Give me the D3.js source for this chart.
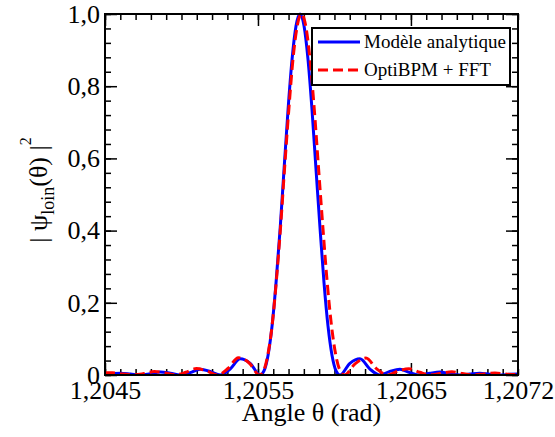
<!DOCTYPE html>
<html>
<head>
<meta charset="utf-8">
<script src="https://cdn.jsdelivr.net/npm/d3@7"></script>
<style>
  html, body { margin: 0; padding: 0; background: #fff; }
  svg { display: block; }
  svg text { font-family: "Liberation Serif", "Times New Roman", Times, serif !important; fill: #000; }
</style>
</head>
<body>
<svg id="chart" width="555" height="437"></svg>
<script>
// ---- Data ----
const analyticAngle = [
  1.204500, 1.204601, 1.204666, 1.204731, 1.204796, 1.204862, 1.204927, 1.204992,
  1.205057, 1.205123, 1.205188, 1.205253, 1.205318, 1.205384, 1.205449, 1.205514,
  1.205540, 1.205566, 1.205592, 1.205618, 1.205645, 1.205671, 1.205697, 1.205723,
  1.205749, 1.205775, 1.205801, 1.205827, 1.205853, 1.205879, 1.205906, 1.205932,
  1.205958, 1.205984, 1.206010, 1.206036, 1.206101, 1.206167, 1.206232, 1.206297,
  1.206362, 1.206428, 1.206493, 1.206558, 1.206623, 1.206689, 1.206754, 1.206819,
  1.206884, 1.206950, 1.207015, 1.207080, 1.207145, 1.207200
];
const analyticValue = [
  0.003, 0.005, 0.0028, 0.0, 0.0036, 0.0083, 0.0048, 0.0,
  0.0067, 0.0162, 0.0100, 0.0, 0.0165, 0.0450, 0.0324, 0.0,
  0.0119, 0.0547, 0.1353, 0.2546, 0.4053, 0.5728, 0.7368, 0.8751,
  0.9675, 1.0, 0.9675, 0.8751, 0.7368, 0.5728, 0.4053, 0.2546,
  0.1353, 0.0547, 0.0119, 0.0, 0.0324, 0.0450, 0.0165, 0.0,
  0.0100, 0.0162, 0.0067, 0.0, 0.0048, 0.0083, 0.0036, 0.0,
  0.0028, 0.0050, 0.0022, 0.0, 0.0018, 0.003
];
const bpmAngle = [
  1.204500, 1.204549, 1.204617, 1.204686, 1.204755, 1.204823, 1.204892, 1.204961,
  1.205029, 1.205098, 1.205166, 1.205235, 1.205304, 1.205372, 1.205441, 1.205510,
  1.205537, 1.205564, 1.205592, 1.205619, 1.205647, 1.205674, 1.205702, 1.205729,
  1.205757, 1.205784, 1.205812, 1.205840, 1.205868, 1.205896, 1.205925, 1.205953,
  1.205981, 1.206009, 1.206037, 1.206065, 1.206135, 1.206206, 1.206276, 1.206346,
  1.206416, 1.206487, 1.206557, 1.206627, 1.206697, 1.206768, 1.206838, 1.206908,
  1.206978, 1.207049, 1.207119, 1.207200
];
const bpmValue = [
  0.006, 0.006, 0.0028, 0.0005, 0.0040, 0.0095, 0.0055, 0.0005,
  0.0075, 0.0180, 0.0110, 0.0, 0.0180, 0.0480, 0.0340, 0.0,
  0.0119, 0.0547, 0.1353, 0.2546, 0.4053, 0.5728, 0.7368, 0.8751,
  0.9675, 1.0, 0.9675, 0.8751, 0.7368, 0.5728, 0.4053, 0.2546,
  0.1353, 0.0547, 0.0119, 0.0, 0.0310, 0.0470, 0.0170, 0.0,
  0.0110, 0.0170, 0.0075, 0.0005, 0.0050, 0.0090, 0.0040, 0.0005,
  0.0030, 0.0055, 0.0025, 0.001
];
const seriesNames = ["Modèle analytique", "OptiBPM + FFT"];
const xTickLabels = [1.2045, 1.2055, 1.2065, 1.2072];
const yTickLabels = [0, 0.2, 0.4, 0.6, 0.8, 1.0];
const xDomain = [1.2045, 1.2072];
const yDomain = [0, 1];

// ---- Layout ----
const FONT = '"Liberation Serif", "Times New Roman", Times, serif';
const L = 105, R = 518, T = 14, B = 375;
const svg = d3.select("#chart");
const x = d3.scaleLinear().domain(xDomain).range([L, R]);
const y = d3.scaleLinear().domain(yDomain).range([B, T]);

const comma = v => (v === 0 ? "0" : d3.format(v >= 1.1 ? ".4f" : ".1f")(v).replace(".", ","));

const xMinor = d3.range(0, 28).map(i => +(1.2045 + i * 0.0001).toFixed(4));
const yMinor = d3.range(0, 26).map(i => +(i * 0.04).toFixed(2));
const xMajor = [1.2045, 1.2055, 1.2065];

function styleAxis(g) {
  g.attr("font-family", FONT);
  g.select(".domain").remove();
  g.selectAll(".tick line").attr("stroke", "#000").attr("stroke-width", 1.5);
}

// bottom
svg.append("g").attr("transform", `translate(0,${B})`)
  .call(d3.axisBottom(x).tickValues(xMinor).tickSize(-6).tickFormat(""))
  .call(styleAxis);
svg.append("g").attr("transform", `translate(0,${B})`)
  .call(d3.axisBottom(x).tickValues(xMajor).tickSize(-12).tickFormat(""))
  .call(styleAxis);
svg.append("g").attr("transform", `translate(0,${B})`)
  .call(d3.axisBottom(x).tickValues(xTickLabels).tickSize(0).tickPadding(6).tickFormat(comma))
  .call(styleAxis)
  .call(g => g.selectAll(".tick line").remove())
  .call(g => g.selectAll("text").attr("font-size", 26).attr("font-family", FONT));
// top
svg.append("g").attr("transform", `translate(0,${T})`)
  .call(d3.axisTop(x).tickValues(xMinor).tickSize(-6).tickFormat(""))
  .call(styleAxis);
svg.append("g").attr("transform", `translate(0,${T})`)
  .call(d3.axisTop(x).tickValues(xMajor).tickSize(-12).tickFormat(""))
  .call(styleAxis);
// left
svg.append("g").attr("transform", `translate(${L},0)`)
  .call(d3.axisLeft(y).tickValues(yMinor).tickSize(-6).tickFormat(""))
  .call(styleAxis);
svg.append("g").attr("transform", `translate(${L},0)`)
  .call(d3.axisLeft(y).tickValues(yTickLabels).tickSize(-12).tickPadding(5).tickFormat(comma))
  .call(styleAxis)
  .call(g => g.selectAll("text").attr("font-size", 26).attr("font-family", FONT));
// right
svg.append("g").attr("transform", `translate(${R},0)`)
  .call(d3.axisRight(y).tickValues(yMinor).tickSize(-6).tickFormat(""))
  .call(styleAxis);
svg.append("g").attr("transform", `translate(${R},0)`)
  .call(d3.axisRight(y).tickValues(yTickLabels).tickSize(-12).tickFormat(""))
  .call(styleAxis);

// clip
svg.append("clipPath").attr("id", "clip")
  .append("rect").attr("x", L).attr("y", T - 2).attr("width", R - L).attr("height", B - T + 2);

const line = d3.line().x(d => x(d[0])).y(d => y(d[1])).curve(d3.curveMonotoneX);
const blueData = analyticAngle.map((a, i) => [a, analyticValue[i]]);
const redData = bpmAngle.map((a, i) => [a, bpmValue[i]]);

const plot = svg.append("g").attr("clip-path", "url(#clip)");
plot.append("path").datum(blueData).attr("d", line)
  .attr("fill", "none").attr("stroke", "#0000ff").attr("stroke-width", 3);
plot.append("path").datum(redData).attr("d", line)
  .attr("fill", "none").attr("stroke", "#ff0000").attr("stroke-width", 3)
  .attr("stroke-dasharray", "10,5");

// frame
svg.append("rect").attr("x", L).attr("y", T).attr("width", R - L).attr("height", B - T)
  .attr("fill", "none").attr("stroke", "#000").attr("stroke-width", 2);

// legend
const lg = svg.append("g").attr("font-family", FONT);
lg.append("rect").attr("x", 312).attr("y", 28).attr("width", 198).attr("height", 57)
  .attr("fill", "#fff").attr("stroke", "#000").attr("stroke-width", 2);
const legendStyles = [
  { color: "#0000ff", dash: null },
  { color: "#ff0000", dash: "10,5" }
];
seriesNames.forEach((name, i) => {
  const yy = 42 + i * 28;
  lg.append("line").attr("x1", 318).attr("x2", 360).attr("y1", yy).attr("y2", yy)
    .attr("stroke", legendStyles[i].color).attr("stroke-width", 3)
    .attr("stroke-dasharray", legendStyles[i].dash);
  lg.append("text").attr("x", 364).attr("y", yy).attr("dy", "0.33em")
    .attr("font-size", 19).text(name);
});

// axis titles
svg.append("text").attr("x", (L + R) / 2).attr("y", 421).attr("text-anchor", "middle")
  .attr("font-family", FONT).attr("font-size", 26).text("Angle θ (rad)");

const yt = svg.append("text").attr("transform", "translate(47,190) rotate(-90)")
  .attr("text-anchor", "middle").attr("font-family", FONT).attr("font-size", 26);
yt.append("tspan").text("| ψ");
yt.append("tspan").attr("font-size", 18).attr("dy", 7).text("loin");
yt.append("tspan").attr("dy", -7).text("(θ) |");
yt.append("tspan").attr("font-size", 16).attr("dy", -16).text("2");
</script>
</body>
</html>
